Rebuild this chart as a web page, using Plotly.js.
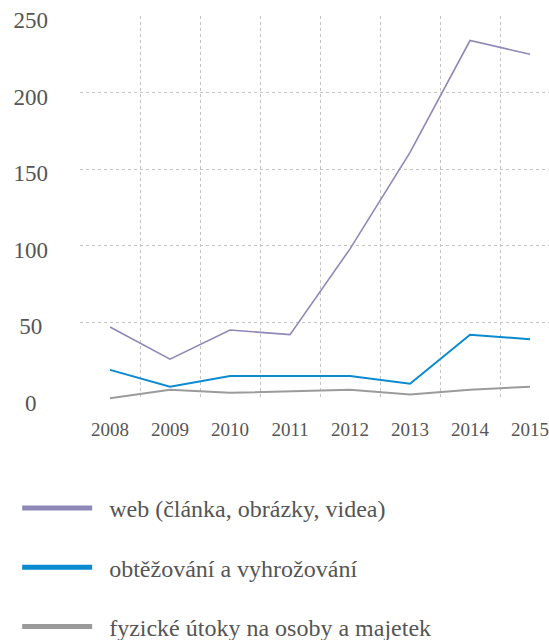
<!DOCTYPE html>
<html>
<head>
<meta charset="utf-8">
<script src="https://cdn.plot.ly/plotly-3.0.1.min.js"></script>
<style>
  html, body { margin: 0; padding: 0; background: #fff; }
  #chart { width: 549px; height: 640px; }
</style>
</head>
<body>
<div id="chart"></div>
<script>
const years = ["2008", "2009", "2010", "2011", "2012", "2013", "2014", "2015"];
const webValues = [47, 26, 45, 42, 98, 161, 234, 225];
const harassValues = [19, 8, 15, 15, 15, 10, 42, 39];
const physicalValues = [0.5, 6, 4, 5, 6, 3, 6, 8];
const seriesNames = [
  "\u2002web (článka, obrázky, videa)",
  "\u2002obtěžování a vyhrožování",
  "\u2002fyzické útoky na osoby a majetek"
];
const seriesColors = ["#8e88b6", "#0a8ad0", "#9b9b9b"];
const yTickVals = [0, 50, 100, 150, 200, 250];
const yTickText = ["0\u2007", "50\u2005", "100", "150", "200", "250"];

const FONT = "Liberation Serif";
const valueSets = [webValues, harassValues, physicalValues];
const lineWidths = [1.6, 2, 2];

const traces = [];
valueSets.forEach((vals, i) => {
  traces.push({
    type: "scatter", mode: "lines",
    x: years, y: vals,
    line: { color: seriesColors[i], width: lineWidths[i] },
    showlegend: false, hoverinfo: "skip"
  });
});
seriesNames.forEach((name, i) => {
  traces.push({
    type: "scatter", mode: "lines",
    x: [null], y: [null],
    name: name, legendgroup: "g" + i,
    line: { color: seriesColors[i], width: 5 },
    showlegend: true
  });
});

const layout = {
  width: 549, height: 640,
  margin: { l: 80, r: 0, t: 16, b: 241, autoexpand: false },
  paper_bgcolor: "#fff", plot_bgcolor: "#fff",
  font: { family: FONT, color: "#555" },
  xaxis: {
    type: "category",
    categoryorder: "array", categoryarray: years,
    range: [-0.5, 7.316],
    tickson: "boundaries",
    showgrid: true, gridcolor: "#c4c4c4", griddash: "dot", gridwidth: 1,
    zeroline: false, showline: false, ticks: "",
    tickfont: { size: 19, family: FONT, color: "#555" },
    ticklabelstandoff: 17
  },
  yaxis: {
    range: [0, 250],
    tickvals: yTickVals, ticktext: yTickText,
    showgrid: true, gridcolor: "#c4c4c4", griddash: "dot", gridwidth: 1,
    zeroline: false, showline: false, ticks: "",
    tickfont: { size: 23, family: FONT, color: "#555" },
    ticklabelstandoff: 31,
    ticklabelshift: 4
  },
  legend: {
    x: -0.134, xanchor: "left",
    y: -0.227, yanchor: "top",
    font: { size: 24, family: FONT, color: "#555" },
    itemwidth: 70,
    tracegroupgap: 25,
    bgcolor: "rgba(0,0,0,0)"
  },
  showlegend: true
};

Plotly.newPlot("chart", traces, layout, { displayModeBar: false, staticPlot: true });
</script>
</body>
</html>
